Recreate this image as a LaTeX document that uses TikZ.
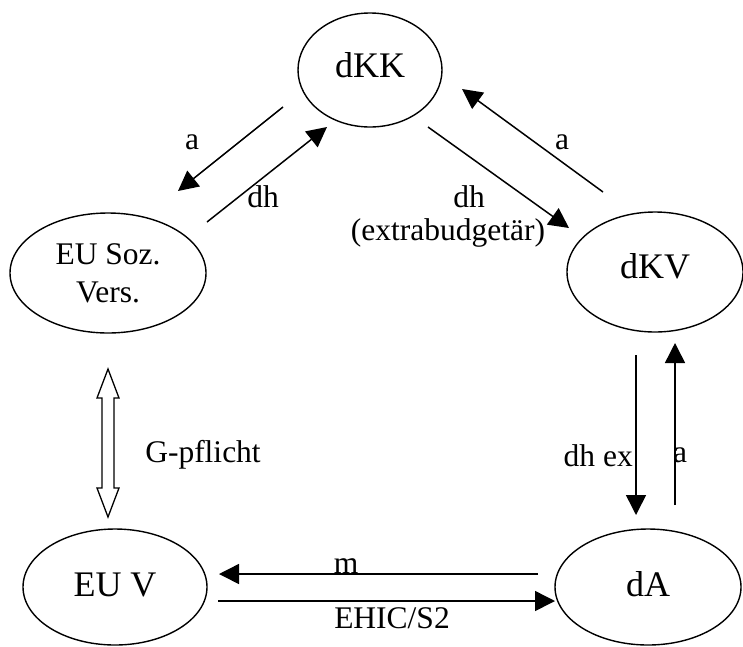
\documentclass[tikz,border=0pt]{standalone}
\usepackage{fontspec}
\setmainfont{Liberation Serif}
\usetikzlibrary{shapes.geometric,arrows.meta}
\begin{document}
\begin{tikzpicture}[x=1pt,y=-1pt,
  party/.style={draw,ellipse,line width=1.4pt,inner sep=0pt,
    font=\fontsize{36}{40}\selectfont},
  partysmall/.style={party,font=\fontsize{31.5}{38}\selectfont,align=center},
  flow/.style={line width=1.5pt,-{Triangle[length=20pt,width=20pt]}},
  lbl/.style={font=\fontsize{31.5}{35}\selectfont,inner sep=0pt}
]
\useasboundingbox (0,0) rectangle (743,646);

% parties
\node[party,minimum width=144pt,minimum height=114pt] (dKK) at (370,70) {\raisebox{10pt}{dKK}};
\node[partysmall,minimum width=196pt,minimum height=120pt] (euso) at (108,273) {EU Soz.\\Vers.};
\node[party,minimum width=176pt,minimum height=120pt] (dKV) at (655,272) {\raisebox{11pt}{dKV}};
\node[party,minimum width=184pt,minimum height=116pt] (euv) at (115,587) {\raisebox{4pt}{EU V}};
\node[party,minimum width=186pt,minimum height=116pt] (dA) at (648,587) {\raisebox{6pt}{dA}};

% connector end points
\coordinate (aLs) at (283,107);  \coordinate (aLe) at (178,191);
\coordinate (dhLs) at (207,222); \coordinate (dhLe) at (327,127);
\coordinate (dhRs) at (428,127); \coordinate (dhRe) at (569,228);
\coordinate (aRs) at (603,192);  \coordinate (aRe) at (462,89);
\coordinate (dnS) at (636,355);  \coordinate (dnE) at (636,515);
\coordinate (upS) at (675,505);  \coordinate (upE) at (675,343);
\coordinate (mS) at (538,574);   \coordinate (mE) at (219,574);
\coordinate (ehS) at (218,601);  \coordinate (ehE) at (555,601);

% flows
\draw[flow] (aLs) -- (aLe);
\draw[flow] (dhLs) -- (dhLe);
\draw[flow] (dhRs) -- (dhRe);
\draw[flow] (aRs) -- (aRe);
\draw[flow] (dnS) -- (dnE);
\draw[flow] (upS) -- (upE);
\draw[flow] (mS) -- (mE);
\draw[flow] (ehS) -- (ehE);

% hollow double arrow between the insurers
\draw[line width=1.3pt,fill=white,line join=miter]
  (108,369) -- (119,398) -- (114,398) -- (114,488) -- (119,488) -- (108,517)
  -- (97,488) -- (102,488) -- (102,398) -- (97,398) -- cycle;

% labels
\node[lbl] (laL) at (192,142) {a};
\node[lbl] (ldhL) at (263,197) {dh};
\node[lbl] (ldhR) at (469,197) {dh};
\node[lbl] (lext) at (448,233) {(extrabudgetär)};
\node[lbl] (laR) at (562,142) {a};
\node[lbl] (lg) at (203,455) {G-pflicht};
\node[lbl,anchor=east] (ldn) at (633,456) {dh ex};
\node[lbl,anchor=west] (lup) at (673,455) {a};
\node[lbl] (lm) at (346,566) {m};
\node[lbl] (leh) at (392,618) {EHIC/S2};
\end{tikzpicture}
\end{document}
